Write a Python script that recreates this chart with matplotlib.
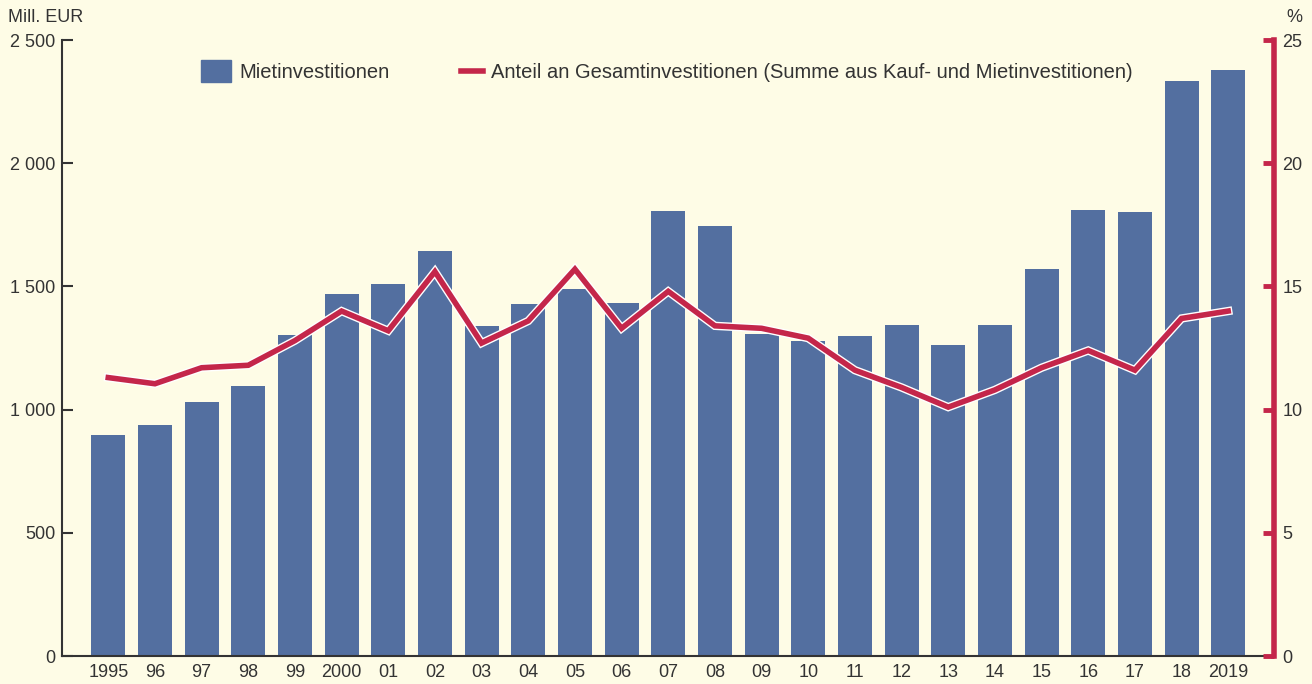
import matplotlib.pyplot as plt
import matplotlib.patheffects as pe
from matplotlib.ticker import FuncFormatter
from matplotlib.lines import Line2D
from matplotlib.patches import Patch

plt.rcParams['font.family'] = ['Liberation Sans', 'DejaVu Sans']

jahre = ["1995", "96", "97", "98", "99", "2000", "01", "02", "03", "04", "05", "06",
         "07", "08", "09", "10", "11", "12", "13", "14", "15", "16", "17", "18", "2019"]
miete = [897, 937, 1031, 1096, 1303, 1469, 1510, 1644, 1339, 1429, 1489, 1433,
         1806, 1745, 1307, 1278, 1299, 1343, 1262, 1343, 1571, 1810, 1802, 2334, 2378]
anteil = [11.3, 11.05, 11.7, 11.8, 12.8, 14.0, 13.2, 15.6, 12.7, 13.6, 15.7, 13.3,
          14.8, 13.4, 13.3, 12.9, 11.6, 10.9, 10.1, 10.8, 11.7, 12.4, 11.6, 13.7, 14.0]

bg = "#FEFCE6"
blau = "#536FA0"
rot = "#C4264A"
dunkel = "#333333"
fs = 13

fig = plt.figure(figsize=(13.12, 6.84), dpi=100, facecolor=bg)
ax = fig.add_axes([0.0473, 0.0409, 0.9237, 0.9006])
ax.set_facecolor(bg)
x = range(len(jahre))
ax.bar(x, miete, width=0.73, color=blau, zorder=2)
ax.set_xlim(-0.99, 24.98)
ax.set_ylim(0, 2500)
ax.set_yticks([0, 500, 1000, 1500, 2000, 2500])
ax.yaxis.set_major_formatter(FuncFormatter(lambda v, p: f"{int(v):,}".replace(",", " ")))
ax.set_xticks(list(x))
ax.set_xticklabels(jahre)
ax.tick_params(axis='x', length=0, pad=6, labelsize=fs, colors=dunkel)
ax.tick_params(axis='y', direction='in', length=8, width=1.5, color=dunkel,
               labelsize=fs, labelcolor=dunkel, pad=5)
for s in ['top', 'right']:
    ax.spines[s].set_visible(False)
ax.spines['left'].set_color(dunkel)
ax.spines['left'].set_linewidth(1.5)
ax.spines['bottom'].set_color(dunkel)
ax.spines['bottom'].set_linewidth(1.5)

ax2 = ax.twinx()
ax2.set_ylim(0, 25)
ax2.plot(x, anteil, color=rot, lw=4, zorder=5, solid_joinstyle='miter',
         path_effects=[pe.Stroke(linewidth=6, foreground='white'), pe.Normal()])
ax2.set_yticks([0, 5, 10, 15, 20, 25])
ax2.tick_params(axis='y', direction='in', length=8, width=3.5, color=rot,
                labelsize=fs, labelcolor=dunkel, pad=6)
for s in ['top', 'left', 'bottom']:
    ax2.spines[s].set_visible(False)
ax2.spines['right'].set_color(rot)
ax2.spines['right'].set_linewidth(4)

fig.text(0.006, 0.975, "Mill. EUR", fontsize=fs, color=dunkel, va='center', ha='left')
fig.text(0.993, 0.975, "%", fontsize=fs, color=dunkel, va='center', ha='right')

handles = [Patch(color=blau), Line2D([0], [0], color=rot, lw=4)]
ax.legend([handles[0]], ["Mietinvestitionen"], loc='upper left', bbox_to_anchor=(0.1, 0.997),
          frameon=False, fontsize=14.5, handlelength=1.45, handleheight=1.3, handletextpad=0.45,
          labelcolor=dunkel)
ax2.legend([handles[1]], ["Anteil an Gesamtinvestitionen (Summe aus Kauf- und Mietinvestitionen)"],
           loc='upper left', bbox_to_anchor=(0.314, 0.992), frameon=False, fontsize=14.5,
           handlelength=1.1, handletextpad=0.4, labelcolor=dunkel)

fig.savefig("out.png", facecolor=bg)
